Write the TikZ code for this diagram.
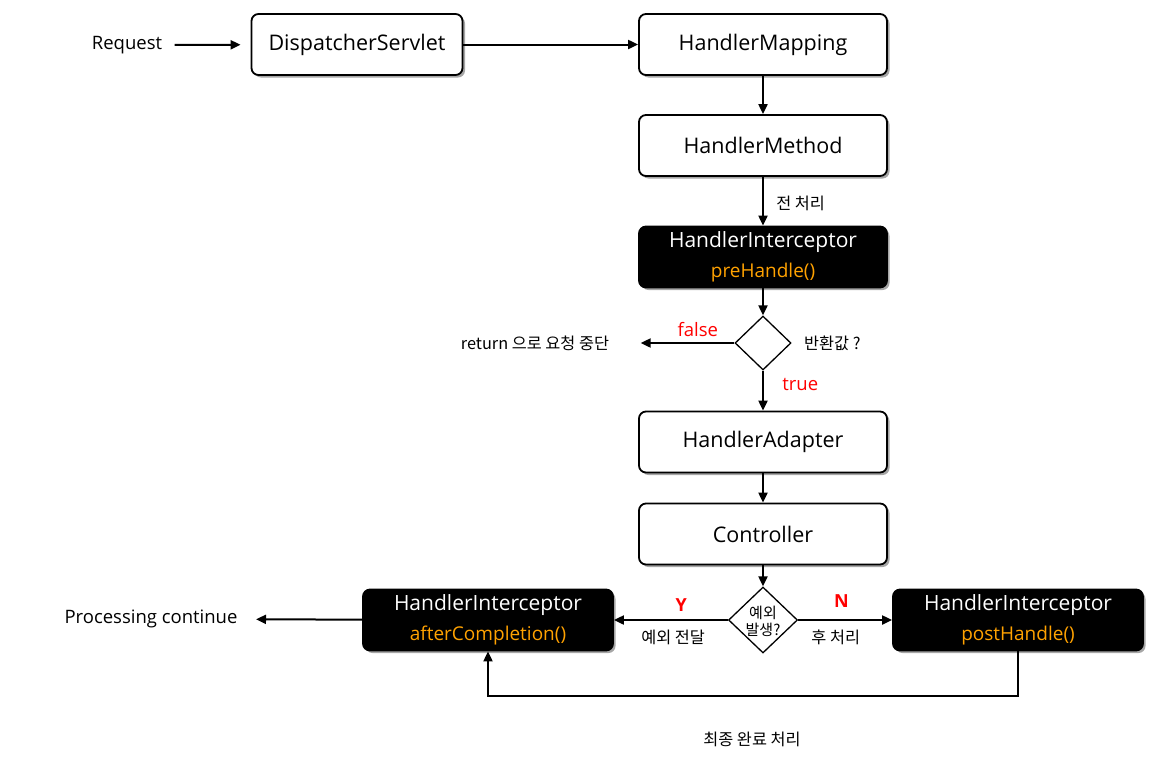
\documentclass[tikz,border=0pt]{standalone}
\usepackage{fontspec}
\setmainfont{Open Sans}
\newfontfamily\kr{Noto Sans CJK KR}
\usepackage{xcolor}
\usetikzlibrary{shapes.geometric,shadows,arrows.meta}
\definecolor{methodorange}{HTML}{FFA200}

\begin{document}
\begin{tikzpicture}
            [x=1pt, y=-1pt,
            box/.style={draw, rectangle, rounded corners=7pt, line width=1.8pt, fill=white,
                minimum width=248pt, minimum height=61pt, font=\fontsize{21.5}{25}\selectfont,
                drop shadow={shadow xshift=2.5pt, shadow yshift=-2.5pt, opacity=0.35, fill=black}},
            darkbox/.style={box, fill=black, text=white, align=center, font=\fontsize{21}{30}\selectfont},
            decision/.style={draw, diamond, line width=1.3pt, fill=white, inner sep=0pt},
            note/.style={font=\fontsize{18.5}{22}\selectfont},
            krnote/.style={font=\kr\fontsize{16.3}{19}\selectfont, align=center},
            rednote/.style={text=red, font=\fontsize{18.5}{22}\selectfont},
            flow/.style={-{Triangle[length=10pt,width=9pt]}, line width=2pt}]

            \useasboundingbox (0,0) rectangle (1167,761);

            % request path
            \node[note] (req) at (127,45) {Request};
            \node[box, minimum width=211pt] (ds) at (357,44.5) {DispatcherServlet};
            \node[box] (hm) at (763,44.5) {HandlerMapping};
            \node[box] (hme) at (763,145.5) {HandlerMethod};
            \node[darkbox] (pre) at (763,257)
                {HandlerInterceptor\\{\color{methodorange}\fontsize{19}{22}\selectfont preHandle()}};
            \node[decision, minimum width=56pt, minimum height=54pt] (check) at (763,343) {};
            \node[krnote] (stop) at (535,343) {return 으로 요청 중단};
            \node[box] (ha) at (763,442) {HandlerAdapter};
            \node[box] (ctrl) at (763,534) {Controller};

            % after controller
            \node[decision, minimum width=69pt, minimum height=66pt] (err) at (763,620) {};
            \node[krnote, font=\kr\fontsize{15}{17}\selectfont] (errtext) at (763,621) {예외\\발생?};
            \node[darkbox, minimum width=250pt] (after) at (488,620)
                {HandlerInterceptor\\{\color{methodorange}\fontsize{19}{22}\selectfont afterCompletion()}};
            \node[darkbox, minimum width=250pt] (post) at (1018,620)
                {HandlerInterceptor\\{\color{methodorange}\fontsize{19}{22}\selectfont postHandle()}};
            \node[note] (cont) at (151,619) {Processing continue};

            % connectors
            \draw[flow, shorten <=9pt, shorten >=10pt] (req) -- (ds);
            \draw[flow] (ds) -- (hm);
            \draw[flow] (hm) -- (hme);
            \draw[flow] (hme) -- node[krnote, right=9pt, pos=0.55] {전 처리} (pre);
            \draw[flow] (pre) -- (check);
            \draw[flow, shorten >=28pt] (check) -- node[rednote, above=2pt, pos=0.3] {false} (stop);
            \node[krnote, right=9pt] at (check.east) {반환값 ?};
            \draw[flow] (check) -- node[rednote, right=15pt, pos=0.35] {true} (ha);
            \draw[flow] (ha) -- (ctrl);
            \draw[flow] (ctrl) -- (err);
            \draw[flow] (err) -- node[rednote, above=4pt, pos=0.41, font=\bfseries\fontsize{18}{21}\selectfont] {Y}
                node[krnote, below=6pt, pos=0.48] {예외 전달} (after);
            \draw[flow] (err) -- node[rednote, above=8pt, pos=0.46, font=\bfseries\fontsize{18}{21}\selectfont] {N}
                node[krnote, below=6pt, pos=0.4] {후 처리} (post);
            \draw[flow, shorten >=15pt] (after) -- (cont);
            \draw[flow] (post.south) -- ++(0,45) -| (after.south);
            \node[krnote] (final) at (752,739) {최종 완료 처리};
        \end{tikzpicture}
\end{document}
